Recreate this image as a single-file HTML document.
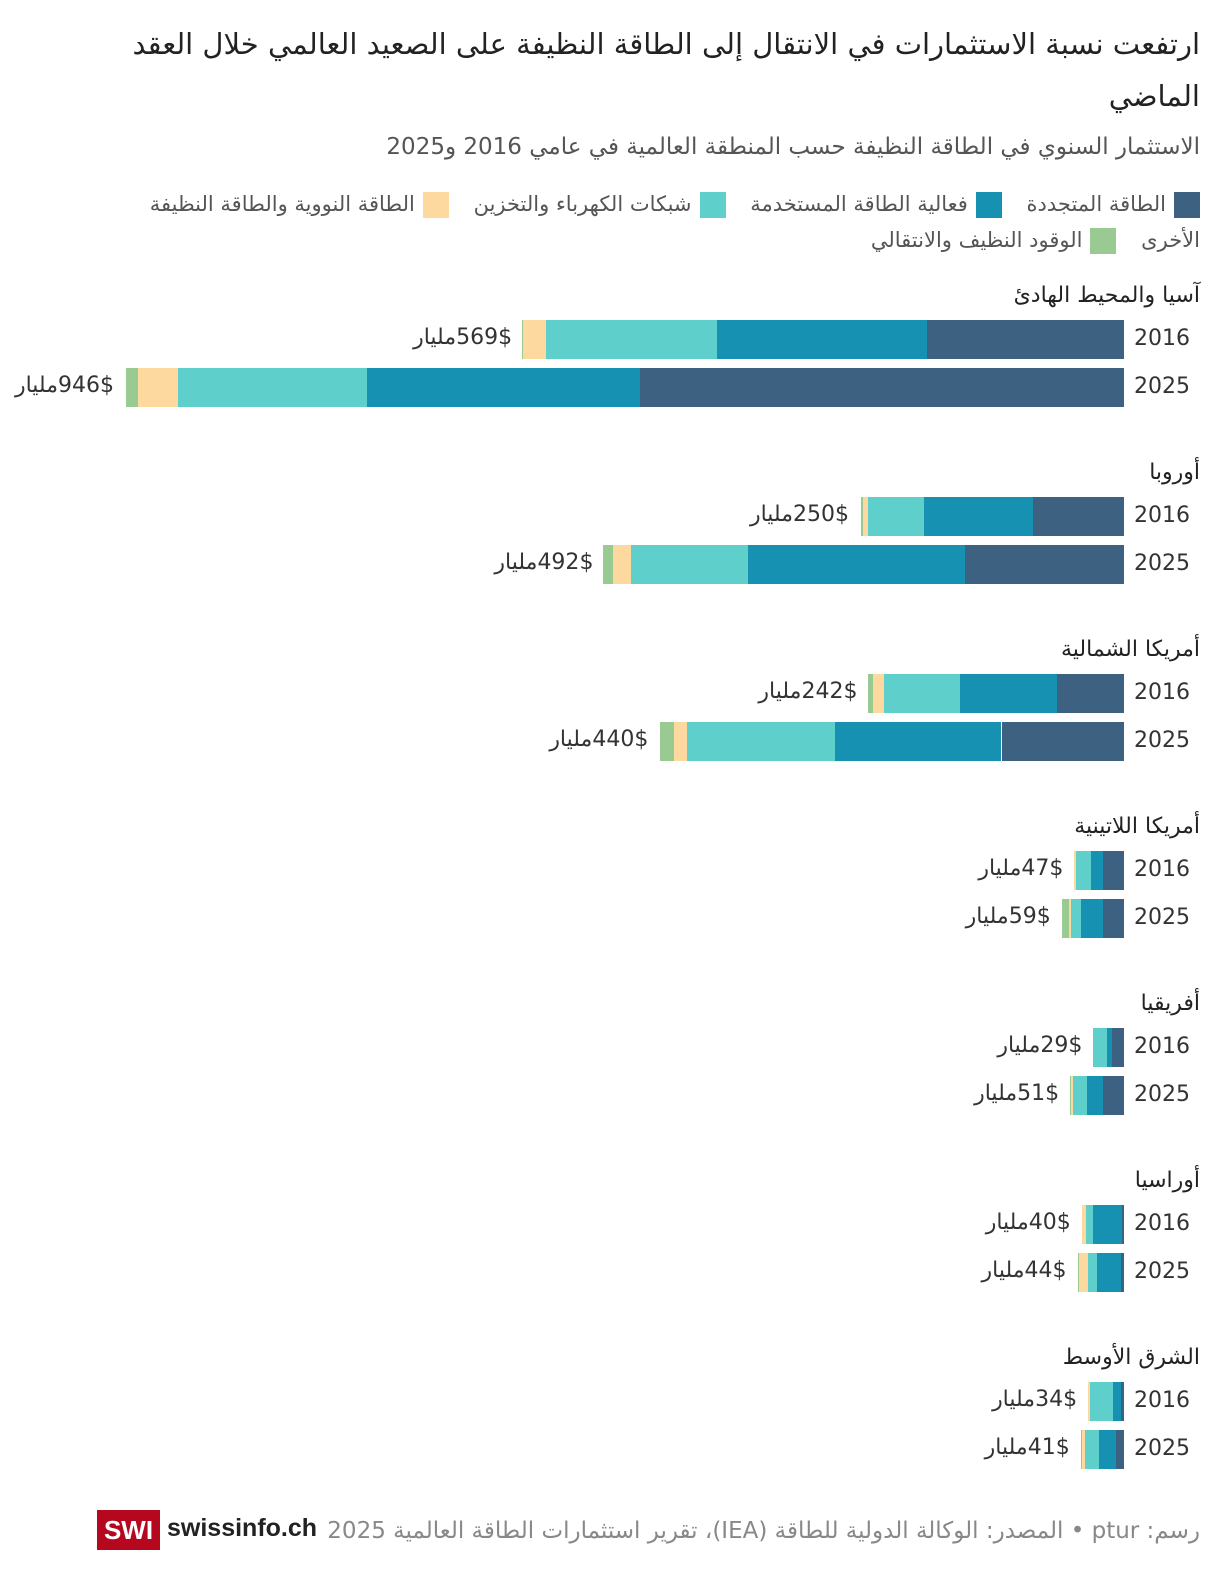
<!DOCTYPE html>
<html lang="ar"><head><meta charset="utf-8">
<style>
html,body{margin:0;padding:0;overflow:hidden;width:1220px;height:1578px}
body{background:#fff;font-family:"DejaVu Sans",sans-serif;color:#222}
#root{position:relative;width:1220px;height:1578px;overflow:hidden}
.a{position:absolute;white-space:nowrap}
.r{direction:rtl;text-align:right;left:0;width:1200px}
.sw{display:inline-block;width:26px;height:26px;vertical-align:middle;margin-left:8px}
.ib{display:inline-block}
</style></head><body><div id="root">
<div class="a r" style="left:90px;width:1110px;top:18px;white-space:normal;font-size:29px;line-height:52px;color:#222">ارتفعت نسبة الاستثمارات في الانتقال إلى الطاقة النظيفة على الصعيد العالمي خلال العقد الماضي</div>
<div class="a r" style="top:134px;font-size:23px;color:#555">الاستثمار السنوي في الطاقة النظيفة حسب المنطقة العالمية في عامي 2016 و2025</div>
<div class="a r" style="top:189px;font-size:21px;color:#555;line-height:30px">
<span style="margin-left:18px"><span class="sw" style="background:#3d6180"></span>الطاقة المتجددة</span>
<span style="margin-left:18px"><span class="sw" style="background:#1791b1"></span>فعالية الطاقة المستخدمة</span>
<span style="margin-left:18px"><span class="sw" style="background:#5ecfca"></span>شبكات الكهرباء والتخزين</span>
<span><span class="sw" style="background:#fdd89f"></span>الطاقة النووية والطاقة النظيفة</span>
</div>
<div class="a r" style="top:225px;font-size:21px;color:#555;line-height:30px">
<span style="margin-left:18px">الأخرى</span>
<span><span class="sw" style="background:#98ca92"></span>الوقود النظيف والانتقالي</span>
</div>
<div id="chart"></div>
<div class="a" style="left:97px;top:1510px;width:63px;height:40px;background:#b5081f;color:#fff;font-weight:bold;font-family:'Liberation Sans',sans-serif;font-size:26px;line-height:40px;text-align:center">SWI</div>
<div class="a" style="left:167px;top:1514px;font-weight:bold;font-family:'Liberation Sans',sans-serif;font-size:25px;color:#222">swissinfo.ch</div>
<div class="a r" style="top:1518px;font-size:23px;color:#888">رسم: ptur • المصدر: الوكالة الدولية للطاقة (IEA)، تقرير استثمارات الطاقة العالمية 2025</div>
</div>
<script>
const regions=["آسيا والمحيط الهادئ","أوروبا","أمريكا الشمالية","أمريكا اللاتينية","أفريقيا","أوراسيا","الشرق الأوسط"];
const years=["2016","2025"];
const totals=[[569,946],[250,492],[242,440],[47,59],[29,51],[40,44],[34,41]];
const renewables=[[187,458],[86,151],[63,116],[20,20],[11,20],[2,3],[3,8]];
const efficiency=[[198,259],[103,205],[92,158],[11,21],[5,15],[27,23],[7,16]];
const grids=[[162,179],[53,111],[72,140],[14,9],[13,13],[7,8],[22,13]];
const nuclear=[[22,38],[5,17],[11,12],[2,2],[0,2],[4,9],[2,3]];
const fuels=[[1,11],[2,9],[4,13],[0,7],[0,1],[0,1],[0,1]];
const series=[renewables,efficiency,grids,nuclear,fuels];
const colors=["#3d6180","#1791b1","#5ecfca","#fdd89f","#98ca92"];
const names=["renewables","efficiency","grids","nuclear","fuels"];
const X0=1124,K=999/946;
const x=v=>v*K;
const c=document.getElementById('chart');
regions.forEach((rg,i)=>{
  const top=283+i*177;
  const t=document.createElement('div');
  t.className='a r';t.style.top=top+'px';t.style.fontSize='22px';
  t.textContent=rg;
  
  
  c.appendChild(t);
  years.forEach((y,j)=>{
    const by=top+37+j*48;
    let right=X0;
    series.forEach((s,k)=>{
      const w=x(s[i][j]);
      if(w<=0)return;
      const b=document.createElement('div');
      b.className='a';b.style.cssText=`left:${right-w}px;top:${by}px;width:${w}px;height:39px;background:${colors[k]}`;
      
      
      c.appendChild(b);right-=w;
    });
    const yl=document.createElement('div');
    yl.className='a';yl.style.cssText=`left:1134px;top:${by+6}px;font-size:22px;color:#333`;
    yl.textContent=y;
    
    
    c.appendChild(yl);
    const vl=document.createElement('div');
    vl.className='a';
    vl.style.cssText=`right:${1220-(X0-x(totals[i][j]))+11}px;top:${by+5}px;font-size:22px;color:#333;direction:ltr`;
    vl.innerHTML='<span class="ib">مليار</span><span class="ib">'+totals[i][j]+'</span><span class="ib">$</span>';
    
    
    c.appendChild(vl);
  });
});
</script>
</body></html>
